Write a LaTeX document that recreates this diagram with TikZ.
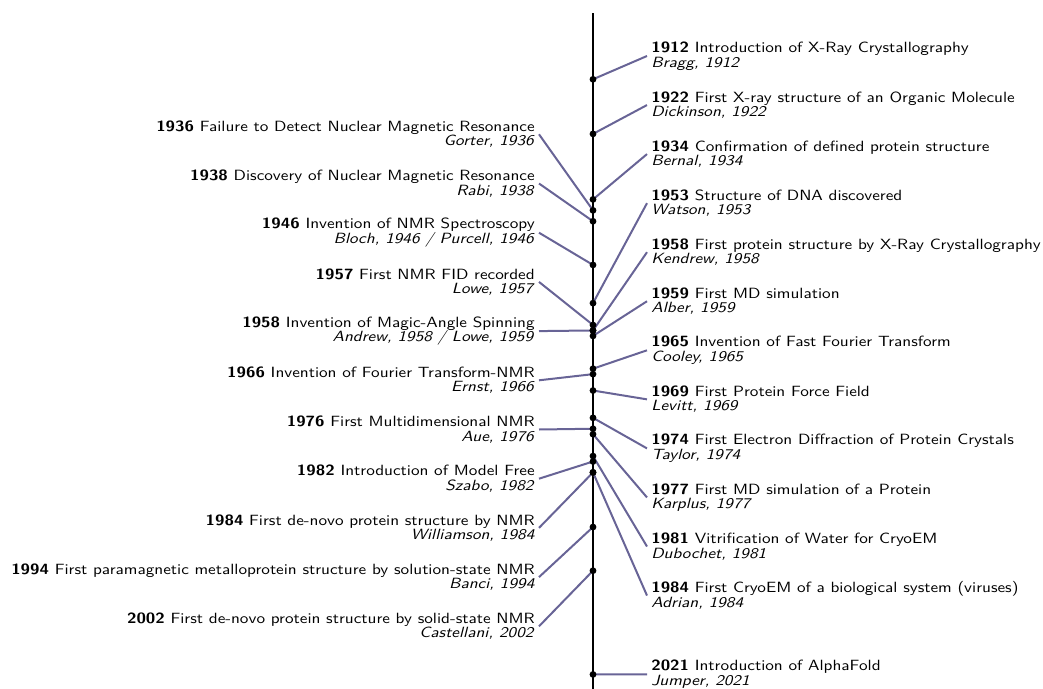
\documentclass[tikz,border=0pt]{standalone}
\usepackage{fontspec}
\setsansfont{lmsans10-regular.otf}[
  BoldFont=lmsans10-bold.otf,
  ItalicFont=lmsans10-oblique.otf,
  BoldItalicFont=lmsans10-boldoblique.otf,
  FakeStretch=1.16]
\usetikzlibrary{backgrounds}
\definecolor{connc}{RGB}{104,100,150}
\tikzset{
  dot/.style={circle,fill=black,inner sep=0pt,minimum size=4.6pt},
  lab/.style={font=\sffamily\fontsize{10pt}{9.8pt}\selectfont,inner xsep=2.7pt,inner ysep=1pt},
  rlab/.style={lab,anchor=west,align=left},
  llab/.style={lab,anchor=east,align=right},
  conn/.style={draw=connc,line width=1.35pt},
  axis/.style={draw=black,line width=0.9pt}
}
\newcommand{\yr}[1]{79.3+(#1-1912)*5.46}
\newcommand{\rev}[5]{%
  \node[dot] (d#1) at (593,{\yr{#2}}) {};
  \node[rlab] (l#1) at (647,#3) {\textbf{#2} #4\\\textit{#5}};
  \begin{pgfonlayer}{background}\draw[conn] (d#1.center) -- (l#1.west);\end{pgfonlayer}}
\newcommand{\lev}[5]{%
  \node[dot] (d#1) at (593,{\yr{#2}}) {};
  \node[llab] (l#1) at (539,#3) {\textbf{#2} #4\\\textit{#5}};
  \begin{pgfonlayer}{background}\draw[conn] (d#1.center) -- (l#1.east);\end{pgfonlayer}}
\begin{document}
\begin{tikzpicture}[x=0.675pt,y=-0.675pt]
\useasboundingbox (0,0) rectangle (1043,689);
\coordinate (atop) at (593,13);
\coordinate (abot) at (593,695);
\begin{pgfonlayer}{background}\draw[axis] (atop) -- (abot);\end{pgfonlayer}
% right side
\rev{R1912}{1912}{56}{Introduction of X-Ray Crystallography}{Bragg, 1912}
\rev{R1922}{1922}{105.05}{First X-ray structure of an Organic Molecule}{Dickinson, 1922}
\rev{R1934}{1934}{154.1}{Confirmation of defined protein structure}{Bernal, 1934}
\rev{R1953}{1953}{203.15}{Structure of DNA discovered}{Watson, 1953}
\rev{R1958}{1958}{252.2}{First protein structure by X-Ray Crystallography}{Kendrew, 1958}
\rev{R1959}{1959}{301.25}{First MD simulation}{Alber, 1959}
\rev{R1965}{1965}{350.3}{Invention of Fast Fourier Transform}{Cooley, 1965}
\rev{R1969}{1969}{399.35}{First Protein Force Field}{Levitt, 1969}
\rev{R1974}{1974}{448.4}{First Electron Diffraction of Protein Crystals}{Taylor, 1974}
\rev{R1977}{1977}{497.45}{First MD simulation of a Protein}{Karplus, 1977}
\rev{R1981}{1981}{546.5}{Vitrification of Water for CryoEM}{Dubochet, 1981}
\rev{R1984}{1984}{595.55}{First CryoEM of a biological system (viruses)}{Adrian, 1984}
\rev{R2021}{2021}{674.3}{Introduction of AlphaFold}{Jumper, 2021}
% left side
\lev{L1936}{1936}{134.3}{Failure to Detect Nuclear Magnetic Resonance}{Gorter, 1936}
\lev{L1938}{1938}{183.5}{Discovery of Nuclear Magnetic Resonance}{Rabi, 1938}
\lev{L1946}{1946}{232.7}{Invention of NMR Spectroscopy}{Bloch, 1946 / Purcell, 1946}
\lev{L1957}{1957}{281.9}{First NMR FID recorded}{Lowe, 1957}
\lev{L1958}{1958}{331.1}{Invention of Magic-Angle Spinning}{Andrew, 1958 / Lowe, 1959}
\lev{L1966}{1966}{380.3}{Invention of Fourier Transform-NMR}{Ernst, 1966}
\lev{L1976}{1976}{429.5}{First Multidimensional NMR}{Aue, 1976}
\lev{L1982}{1982}{478.7}{Introduction of Model Free}{Szabo, 1982}
\lev{L1984}{1984}{527.9}{First de-novo protein structure by NMR}{Williamson, 1984}
\lev{L1994}{1994}{577.1}{First paramagnetic metalloprotein structure by solution-state NMR}{Banci, 1994}
\lev{L2002}{2002}{626.3}{First de-novo protein structure by solid-state NMR}{Castellani, 2002}
\end{tikzpicture}
\end{document}
